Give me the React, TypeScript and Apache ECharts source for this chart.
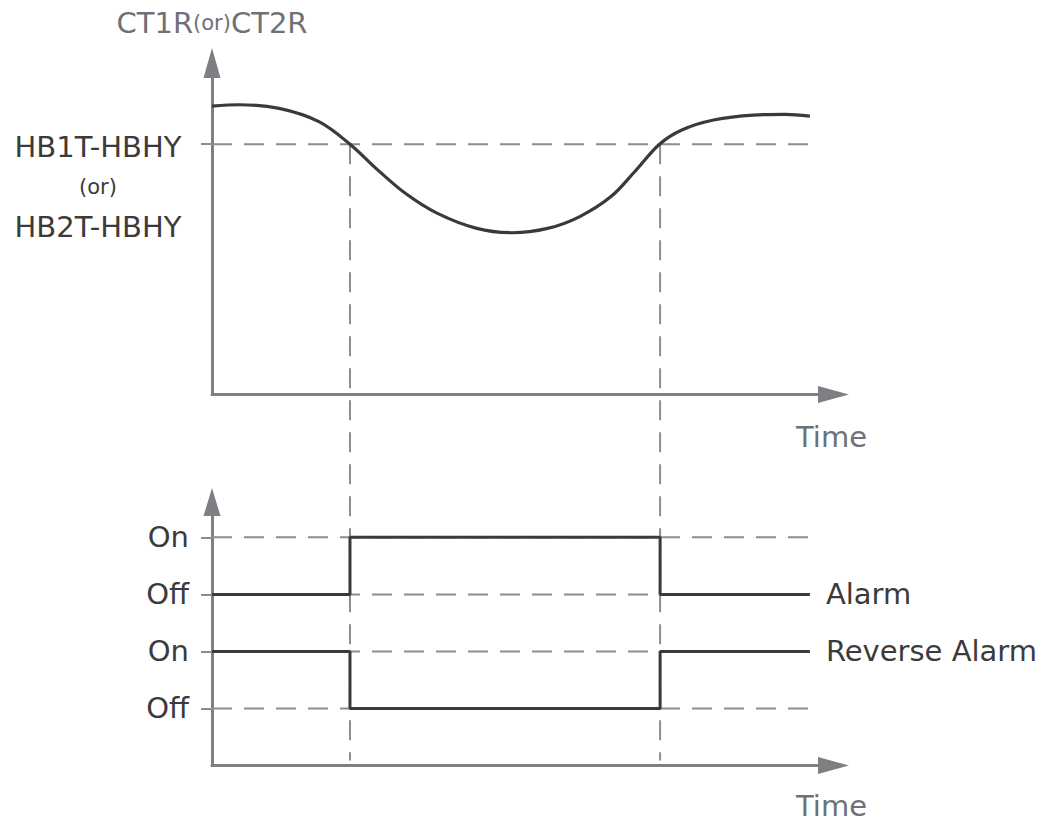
import React, { useEffect, useRef } from 'react';
import * as echarts from 'echarts';

// ---- data ----
const TIME_MAX = 100;
const curveTimes = [0, 4.4, 10.8, 17.2, 22.2, 26.7, 31.1, 36.2, 42.6, 48.3, 54.0, 59.1, 64.2, 68.0, 72.0, 75.6, 80.7, 87.1, 92.2, 96.2];
const curveValues = [87.0, 87.4, 86.3, 82.3, 75.5, 67.7, 60.7, 54.7, 50.1, 48.8, 50.1, 53.6, 59.7, 67.2, 75.5, 79.8, 82.8, 84.3, 84.5, 84.0];
const THRESHOLD = 75.5;
const TOP_MAX = 100;
const switchTimes = [22.2, 72.1];
const END_TIME = 96.2;
const levelValues = [1, 2, 3, 4];
const levelLabels = ['Off', 'On', 'Off', 'On'];
const alarmStates = [3, 4, 3]; // Off, On, Off
const reverseStates = [2, 1, 2]; // On, Off, On
const BOTTOM_MAX = 4.62;
const seriesNames = ['Alarm', 'Reverse Alarm'];
const yTitle = ['CT1R', '(or)', 'CT2R'];
const thresholdLabel = ['HB1T-HBHY', '(or)', 'HB2T-HBHY'];
const xTitle = 'Time';

// ---- style ----
const FONT = 'DejaVu Sans';
const FS = 29;
const FS_SMALL = 21;
const AXIS_GRAY = '#7e7f83';
const DASH_GRAY = '#8d8d8d';
const LINE_DARK = '#3a3a3a';
const TEXT_DARK = '#3b3b3b';
const TEXT_GRAY = '#6f7176';
const DASH = [20, 12];

function stepPoints(states: number[]) {
  const pts: number[][] = [[0, states[0]]];
  switchTimes.forEach((t, i) => {
    pts.push([t, states[i]]);
    pts.push([t, states[i + 1]]);
  });
  pts.push([END_TIME, states[states.length - 1]]);
  return pts;
}

export default function App() {
  const ref = useRef<HTMLDivElement>(null);
  useEffect(() => {
    if (!ref.current) return;
    const chart = echarts.init(ref.current, null, { renderer: 'svg' });
    const xAxisBase = (padTop: number) => ({
      type: 'value',
      min: 0,
      max: TIME_MAX,
      axisLine: {
        show: true,
        symbol: ['none', 'triangle'],
        symbolSize: [17, 31],
        lineStyle: { color: AXIS_GRAY, width: 3 },
      },
      axisTick: { show: false },
      axisLabel: { show: false },
      splitLine: { show: false },
      name: xTitle,
      nameLocation: 'end',
      nameGap: -2,
      nameTextStyle: {
        align: 'center',
        verticalAlign: 'top',
        padding: [padTop, 0, 0, 0],
        color: TEXT_GRAY,
        fontSize: FS,
        fontFamily: FONT,
      },
    });
    const dashed = { color: DASH_GRAY, width: 2, type: DASH };
    const option: any = {
      animation: false,
      grid: [
        { left: 212, top: 63, width: 621.5, height: 331.5 },
        { left: 212, top: 502, width: 621.5, height: 263.5 },
      ],
      xAxis: [
        { ...xAxisBase(28), gridIndex: 0 },
        { ...xAxisBase(26), gridIndex: 1 },
      ],
      yAxis: [
        {
          gridIndex: 0,
          type: 'value',
          min: 0,
          max: TOP_MAX,
          axisLine: {
            show: true,
            symbol: ['none', 'triangle'],
            symbolSize: [17, 30],
            lineStyle: { color: AXIS_GRAY, width: 3 },
          },
          axisTick: {
            show: true,
            customValues: [THRESHOLD],
            length: 11,
            lineStyle: { color: DASH_GRAY, width: 2 },
          },
          axisLabel: { show: false },
          splitLine: { show: false },
          name: `{a|${yTitle[0]}}{b|${yTitle[1]}}{a|${yTitle[2]}}`,
          nameLocation: 'end',
          nameGap: 26,
          nameTextStyle: {
            align: 'center',
            rich: {
              a: { fontSize: FS, color: TEXT_GRAY, fontFamily: FONT },
              b: { fontSize: FS_SMALL, color: TEXT_GRAY, fontFamily: FONT },
            },
          },
        },
        {
          gridIndex: 1,
          type: 'value',
          min: 0,
          max: BOTTOM_MAX,
          interval: 1,
          axisLine: {
            show: true,
            symbol: ['none', 'triangle'],
            symbolSize: [17, 28],
            lineStyle: { color: AXIS_GRAY, width: 3 },
          },
          axisTick: {
            show: true,
            customValues: levelValues,
            length: 11,
            lineStyle: { color: DASH_GRAY, width: 2 },
          },
          axisLabel: {
            show: true,
            customValues: levelValues,
            margin: 23,
            color: TEXT_DARK,
            fontSize: FS,
            fontFamily: FONT,
            formatter: (v: number) => {
              const i = levelValues.indexOf(v);
              return i >= 0 ? levelLabels[i] : '';
            },
          },
          splitLine: { show: false },
        },
      ],
      series: [
        {
          type: 'line',
          xAxisIndex: 0,
          yAxisIndex: 0,
          data: [[0, THRESHOLD], [END_TIME, THRESHOLD]],
          symbol: 'none',
          lineStyle: dashed,
          z: 1,
          silent: true,
        },
        {
          type: 'line',
          xAxisIndex: 0,
          yAxisIndex: 0,
          data: curveTimes.map((t, i) => [t, curveValues[i]]),
          smooth: 0.35,
          symbol: 'none',
          lineStyle: { color: LINE_DARK, width: 3.2 },
          z: 3,
        },
        ...levelValues.map((lv) => ({
          type: 'line',
          xAxisIndex: 1,
          yAxisIndex: 1,
          data: [[0, lv], [END_TIME, lv]],
          symbol: 'none',
          lineStyle: dashed,
          z: 1,
          silent: true,
        })),
        ...[alarmStates, reverseStates].map((states, k) => ({
          name: seriesNames[k],
          type: 'line',
          xAxisIndex: 1,
          yAxisIndex: 1,
          data: stepPoints(states),
          symbol: 'none',
          lineStyle: { color: LINE_DARK, width: 3 },
          z: 3,
          endLabel: {
            show: true,
            formatter: seriesNames[k],
            distance: 16,
            color: TEXT_DARK,
            fontSize: FS,
            fontFamily: FONT,
          },
        })),
      ],
    };
    chart.setOption(option);

    const graphics: any[] = [];
    switchTimes.forEach((t) => {
      const p1 = chart.convertToPixel({ xAxisIndex: 0, yAxisIndex: 0 }, [t, THRESHOLD]) as number[];
      const p2 = chart.convertToPixel({ xAxisIndex: 1, yAxisIndex: 1 }, [t, 0]) as number[];
      graphics.push({
        type: 'line',
        shape: { x1: p1[0], y1: p1[1], x2: p2[0], y2: p2[1] - 5 },
        style: { stroke: DASH_GRAY, lineWidth: 2, lineDash: DASH },
        z: 1,
        silent: true,
      });
    });
    const th = chart.convertToPixel({ xAxisIndex: 0, yAxisIndex: 0 }, [0, THRESHOLD]) as number[];
    graphics.push({
      type: 'text',
      x: th[0] - 114,
      y: th[1] - 17,
      style: {
        text: `{a|${thresholdLabel[0]}}\n{b|${thresholdLabel[1]}}\n{a|${thresholdLabel[2]}}`,
        align: 'center',
        verticalAlign: 'top',
        rich: {
          a: { fontSize: FS, lineHeight: 40, fill: TEXT_DARK, fontFamily: FONT },
          b: { fontSize: FS_SMALL, lineHeight: 40, fill: TEXT_DARK, fontFamily: FONT },
        },
      },
    });
    chart.setOption({ graphic: graphics });

    return () => chart.dispose();
  }, []);
  return (
    <div
      ref={ref}
      style={{ position: 'fixed', left: 0, top: 0, width: 1051, height: 823, background: '#fff' }}
    />
  );
}
